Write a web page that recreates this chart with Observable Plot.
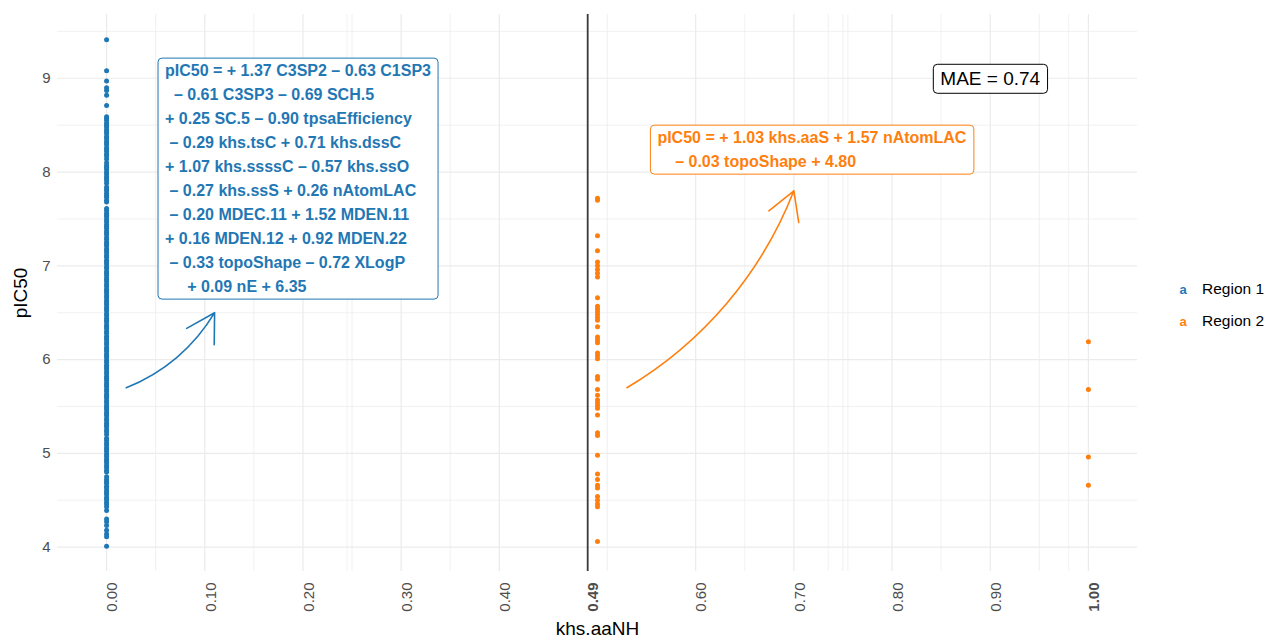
<!DOCTYPE html>
<html>
<head>
<meta charset="utf-8">
<script src="https://cdn.jsdelivr.net/npm/d3@7"></script>
<script src="https://cdn.jsdelivr.net/npm/@observablehq/plot@0.6"></script>
<style>
  html, body { margin: 0; padding: 0; background: #ffffff; }
  #wrap { position: relative; width: 1266px; height: 639px; font-family: "Liberation Sans", Arial, sans-serif; }
  .legend { position: absolute; left: 1170px; top: 273px; }
  .legend .item { display: flex; align-items: center; height: 32px; }
  .legend .key { width: 26px; text-align: center; font-weight: bold; font-size: 13px; }
  .legend .lab { font-size: 15.5px; color: #000; margin-left: 6px; }
</style>
</head>
<body>
<div id="wrap"></div>
<script>
// ---------------- data ----------------
const regions = ["Region 1", "Region 2"];
const regionColors = ["#1f77b4", "#ff7f0e"];

// Region 1: all compounds have khs.aaNH = 0
const region1KhsAaNH = 0;
const region1PIC50 = [
  9.41, 9.08, 8.97, 8.90, 8.87, 8.82, 8.71,
  8.59, 8.57, 8.55, 8.52, 8.50, 8.48, 8.45, 8.43, 8.41, 8.38, 8.36, 8.33, 8.31, 8.29,
  8.26, 8.24, 8.22, 8.19, 8.17, 8.14, 8.10, 8.07, 8.05, 8.03, 8.00, 7.98, 7.95, 7.93,
  7.91, 7.88, 7.84, 7.82, 7.80, 7.77, 7.75, 7.73, 7.70, 7.68,
  7.61, 7.59, 7.56, 7.54, 7.52, 7.49, 7.47, 7.44, 7.42, 7.40, 7.37, 7.35, 7.33, 7.30,
  7.28, 7.25, 7.23, 7.21, 7.18, 7.16, 7.14, 7.11, 7.09, 7.06, 7.04, 7.02, 6.99, 6.97,
  6.94, 6.92, 6.90, 6.87, 6.85, 6.83, 6.80, 6.78, 6.75, 6.73, 6.71, 6.68, 6.66, 6.63,
  6.61, 6.59, 6.56, 6.54, 6.52, 6.49, 6.47, 6.44, 6.42, 6.40, 6.37, 6.35, 6.33, 6.30,
  6.28, 6.25, 6.23, 6.21, 6.18, 6.16, 6.13, 6.11, 6.09, 6.06, 6.04, 6.02, 5.99, 5.97,
  5.94, 5.92, 5.90, 5.87, 5.85, 5.82, 5.80, 5.78, 5.75, 5.73, 5.71, 5.68, 5.66, 5.63,
  5.61, 5.59, 5.56, 5.54, 5.51, 5.49, 5.47, 5.44, 5.42, 5.40, 5.37, 5.35, 5.32, 5.30,
  5.28, 5.25, 5.23, 5.20,
  5.16, 5.14, 5.11, 5.09, 5.06, 5.04, 5.02, 4.99, 4.97, 4.94, 4.92, 4.90, 4.87, 4.85,
  4.82, 4.80,
  4.75, 4.72, 4.70, 4.68, 4.65, 4.63, 4.60, 4.58, 4.56, 4.53, 4.51, 4.48, 4.46,
  4.43, 4.39, 4.30, 4.27, 4.23, 4.18, 4.14, 4.11, 4.01
];

// Region 2: compounds with khs.aaNH = 0.5 and khs.aaNH = 1
const region2MidKhsAaNH = 0.5;
const region2MidPIC50 = [
  7.72, 7.70, 7.32, 7.16, 7.04, 7.00, 6.96, 6.92, 6.88, 6.66, 6.57, 6.54, 6.51, 6.48,
  6.45, 6.42, 6.35, 6.24, 6.21, 6.18, 6.07, 6.04, 6.01, 5.82, 5.79, 5.68, 5.62, 5.57,
  5.54, 5.51, 5.48, 5.41, 5.22, 5.19, 4.98, 4.78, 4.72, 4.66, 4.63, 4.54, 4.50, 4.46,
  4.43, 4.06
];
const region2HighKhsAaNH = 1.0;
const region2HighPIC50 = [6.19, 5.68, 4.96, 4.66];

// segmentation breakpoint
const breakpoint = 0.49;

// axis ticks & grid
const xTickValues = [0, 0.1, 0.2, 0.3, 0.4, 0.6, 0.7, 0.8, 0.9];
const xBoldTickValues = [0.49, 1.0];
const yTickValues = [4, 5, 6, 7, 8, 9];
const xMajorGrid = [0, 0.1, 0.2, 0.3, 0.4, 0.49, 0.6, 0.7, 0.8, 0.9, 1.0];
const xMinorGrid = [0.05, 0.15, 0.245, 0.25, 0.35, 0.51, 0.65, 0.735, 0.75, 0.755, 0.85, 0.95, 0.98];
const yMajorGrid = [4, 5, 6, 7, 8, 9];
const yMinorGrid = [4.5, 5.5, 6.5, 7.5, 8.5, 9.5];

// annotations (equations per region)
const region1Equation = [
  "pIC50 = + 1.37 C3SP2 \u2013 0.63 C1SP3",
  "\u00a0\u00a0\u2013 0.61 C3SP3 \u2013 0.69 SCH.5",
  "+ 0.25 SC.5 \u2013 0.90 tpsaEfficiency",
  "\u00a0\u2013 0.29 khs.tsC + 0.71 khs.dssC",
  "+ 1.07 khs.ssssC \u2013 0.57 khs.ssO",
  "\u00a0\u2013 0.27 khs.ssS + 0.26 nAtomLAC",
  "\u00a0\u2013 0.20 MDEC.11 + 1.52 MDEN.11",
  "+ 0.16 MDEN.12 + 0.92 MDEN.22",
  "\u00a0\u2013 0.33 topoShape \u2013 0.72 XLogP",
  "\u00a0\u00a0\u00a0\u00a0\u00a0+ 0.09 nE + 6.35"
];
const region2Equation = [
  "pIC50 = + 1.03 khs.aaS + 1.57 nAtomLAC",
  "\u00a0\u00a0\u00a0\u00a0\u2013 0.03 topoShape + 4.80"
];
const equationAnchors = [
  {region: "Region 1", x: 0.0595, y: 7.953, lines: region1Equation},
  {region: "Region 2", x: 0.561, y: 8.262, lines: region2Equation}
];
const maeLabel = {x: 0.9, y: 8.99, text: "MAE = 0.74"};
const arrowSpecs = [
  {region: "Region 1", x1: 0.02, y1: 5.7, x2: 0.11, y2: 6.5},
  {region: "Region 2", x1: 0.53, y1: 5.7, x2: 0.70, y2: 7.8}
];

// ---------------- build ----------------
const colorOf = r => regionColors[regions.indexOf(r)];
const points = [
  ...region1PIC50.map(v => ({x: region1KhsAaNH, y: v, region: "Region 1"})),
  ...region2MidPIC50.map(v => ({x: region2MidKhsAaNH, y: v, region: "Region 2"})),
  ...region2HighPIC50.map(v => ({x: region2HighKhsAaNH, y: v, region: "Region 2"}))
];
const fmt = d3.format(".2f");
const FONT = "Liberation Sans, Arial, Helvetica, sans-serif";

const chart = Plot.plot({
  width: 1266,
  height: 639,
  marginLeft: 57,
  marginRight: 129,
  marginTop: 14,
  marginBottom: 68,
  x: {domain: [-0.05, 1.05]},
  y: {domain: [3.74, 9.68]},
  style: {fontFamily: FONT, background: "#ffffff", overflow: "visible"},
  marks: [
    Plot.ruleX(xMinorGrid, {stroke: "#ebebeb", strokeWidth: 0.7}),
    Plot.ruleY(yMinorGrid, {stroke: "#ebebeb", strokeWidth: 0.7}),
    Plot.ruleX(xMajorGrid, {stroke: "#ebebeb", strokeWidth: 1.2}),
    Plot.ruleY(yMajorGrid, {stroke: "#ebebeb", strokeWidth: 1.2}),
    Plot.ruleX([breakpoint], {stroke: "#3a3a3a", strokeWidth: 1.8}),
    Plot.dot(points, {x: "x", y: "y", r: 2.5, fill: d => colorOf(d.region), stroke: "none"}),
    Plot.arrow(arrowSpecs, {
      x1: "x1", y1: "y1", x2: "x2", y2: "y2",
      bend: -19, headAngle: 60, headLength: 30,
      stroke: d => colorOf(d.region), strokeWidth: 1.6
    }),
    Plot.text(equationAnchors, {
      x: "x", y: "y", text: d => d.lines.join("\n"),
      fill: d => colorOf(d.region), fontWeight: "bold", fontSize: 16,
      textAnchor: "start", lineAnchor: "middle", lineHeight: 1.5
    }),
    Plot.text([maeLabel], {
      x: "x", y: "y", text: "text", fill: "#000", fontSize: 19,
      textAnchor: "middle", lineAnchor: "middle"
    }),
    Plot.axisX(xTickValues, {
      tickSize: 0, tickPadding: 11, tickRotate: -90, tickFormat: fmt, dx: 6,
      fontSize: 15, fill: "#4d4d4d", label: null
    }),
    Plot.axisX(xBoldTickValues, {
      tickSize: 0, tickPadding: 11, tickRotate: -90, tickFormat: fmt, dx: 6,
      fontSize: 15, fill: "#4d4d4d", fontWeight: "bold", label: null
    }),
    Plot.axisY(yTickValues, {
      tickSize: 0, tickPadding: 7, tickFormat: d3.format("d"),
      fontSize: 15, fill: "#4d4d4d", label: null
    }),
    Plot.text(["khs.aaNH"], {
      frameAnchor: "bottom", dy: 57, fontSize: 19, fill: "#000",
      textAnchor: "middle", lineAnchor: "middle"
    }),
    Plot.text(["pIC50"], {
      frameAnchor: "left", dx: -37, rotate: -90, fontSize: 19, fill: "#000",
      textAnchor: "middle", lineAnchor: "middle"
    })
  ]
});

const wrap = document.getElementById("wrap");
wrap.append(chart);

// boxes behind the labels (geom_label style)
const boxSpecs = [
  {match: region1Equation[0], stroke: colorOf("Region 1")},
  {match: region2Equation[0], stroke: colorOf("Region 2")},
  {match: maeLabel.text, stroke: "#000000"}
];
chart.querySelectorAll("text").forEach(t => {
  const spec = boxSpecs.find(b => t.textContent.startsWith(b.match));
  if (!spec) return;
  const bb = t.getBBox();
  const padX = 7, padY = 4;
  const r = document.createElementNS("http://www.w3.org/2000/svg", "rect");
  r.setAttribute("x", bb.x - padX);
  r.setAttribute("y", bb.y - padY);
  r.setAttribute("width", bb.width + 2 * padX);
  r.setAttribute("height", bb.height + 2 * padY);
  r.setAttribute("rx", 4);
  r.setAttribute("fill", "#ffffff");
  r.setAttribute("stroke", spec.stroke);
  r.setAttribute("stroke-width", 1);
  const tr = t.getAttribute("transform");
  if (tr) r.setAttribute("transform", tr);
  t.parentNode.insertBefore(r, t);
});

// legend
const legend = document.createElement("div");
legend.className = "legend";
regions.forEach((r, i) => {
  const item = document.createElement("div");
  item.className = "item";
  const key = document.createElement("span");
  key.className = "key";
  key.style.color = regionColors[i];
  key.textContent = "a";
  const lab = document.createElement("span");
  lab.className = "lab";
  lab.textContent = r;
  item.append(key, lab);
  legend.append(item);
});
wrap.append(legend);
</script>
</body>
</html>
